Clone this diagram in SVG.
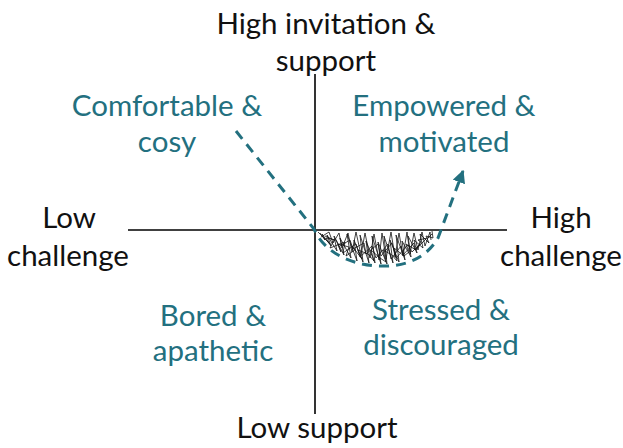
<svg xmlns="http://www.w3.org/2000/svg" width="623" height="448" viewBox="0 0 623 448">
<defs>
<style>
.ax{stroke:#000;stroke-width:1.6;fill:none}
.lbl{font-family:Lato,"Liberation Sans",sans-serif;font-size:29.5px;text-anchor:middle;fill:#111}
.q{fill:#23707f}
.dash{stroke:#23707f;stroke-width:3;fill:none;stroke-dasharray:10 7}
.scr{stroke:#111;stroke-width:0.8;fill:none;stroke-linejoin:miter}
</style>
<marker id="ah" viewBox="0 0 10 10" refX="9" refY="5" markerUnits="userSpaceOnUse" markerWidth="13" markerHeight="13" orient="auto">
<path d="M0,0 L10,5 L0,10 z" fill="#23707f"/>
</marker>
</defs>
<rect width="623" height="448" fill="#fff"/>
<g id="axes">
<line class="ax" x1="315" y1="74" x2="315" y2="414"/>
<line class="ax" x1="128" y1="230" x2="507" y2="230"/>
</g>
<g id="connectors">
<path class="dash" d="M236,131 L314,229 C322,248 345,265 380,266 C410,267 428,255 438,238 L463,171" marker-end="url(#ah)"/>
<g id="scribble">
<polyline class="scr" points="320,233 325,240 322,234 331,246 327,235 337,251 334,236 344,255 340,238 351,258 347,234 357,261 354,240 363,262 360,235 369,263 366,241 375,263 372,236 381,264 378,242 387,264 384,236 393,263 390,240 399,262 396,235 405,260 402,241 411,257 408,236 417,253 414,240 423,248 420,234 429,243 426,236 433,238 432,231"/>
<polyline class="scr" points="318,232 330,244 326,238 336,240 341,252 338,244 349,247 346,256 355,250 352,246 362,259 358,250 368,254 374,261 371,250 380,258 386,262 383,250 392,255 397,261 394,248 404,256 409,252 406,244 416,250 421,242 418,240 428,238 432,234"/>
<polyline class="scr" points="325,236 334,240 330,248 345,242 343,253 356,244 360,257 372,246 376,258 388,244 391,259 401,246 403,255 414,243 415,250 426,239"/>
<polyline class="scr" points="321,237 329,232 333,243 339,233 342,248 348,233 352,252 356,232 361,255 365,233 370,258 374,234 379,260 382,233 386,259 391,232 395,257 399,233 403,256 407,232 410,254 414,233 418,250 422,232 425,246 430,232 431,240"/>
<polyline class="scr" points="340,246 350,240 353,249 364,243 366,254 378,244 381,256 392,243 396,258 408,245 412,252 420,244"/>
</g>
</g>
<g id="n-top"><text class="lbl" x="326" y="34">High invitation &amp;</text><text class="lbl" x="326" y="71">support</text></g>
<g id="n-bottom"><text class="lbl" x="317" y="438">Low support</text></g>
<g id="n-left"><text class="lbl" x="69" y="228">Low</text><text class="lbl" x="68" y="266">challenge</text></g>
<g id="n-right"><text class="lbl" x="561" y="228">High</text><text class="lbl" x="561" y="266">challenge</text></g>
<g id="q-comfortable"><text class="lbl q" x="167" y="116">Comfortable &amp;</text><text class="lbl q" x="167" y="152">cosy</text></g>
<g id="q-empowered"><text class="lbl q" x="444" y="116">Empowered &amp;</text><text class="lbl q" x="444" y="152">motivated</text></g>
<g id="q-bored"><text class="lbl q" x="213" y="326">Bored &amp;</text><text class="lbl q" x="213" y="361">apathetic</text></g>
<g id="q-stressed"><text class="lbl q" x="441" y="320">Stressed &amp;</text><text class="lbl q" x="441" y="355">discouraged</text></g>
</svg>
